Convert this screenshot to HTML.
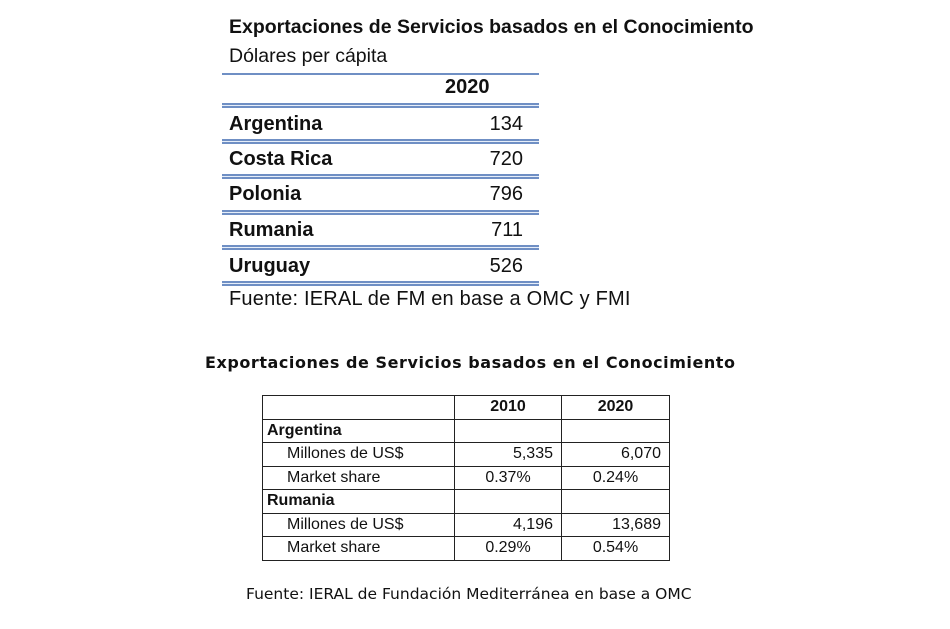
<!DOCTYPE html>
<html><head><meta charset="utf-8">
<style>
body{margin:0;width:950px;height:629px;background:#fff;position:relative;overflow:hidden;font-family:"Liberation Sans",sans-serif;color:#111}
.a{position:absolute;white-space:nowrap}
.ln{position:absolute;left:222px;width:317px;height:2px;background:#6f8fc4}
.dl{position:absolute;left:222px;width:317px;height:5px;border-top:2px solid #6f8fc4;border-bottom:2px solid #6f8fc4;box-sizing:border-box;background:#e6eef9}
.r{font-weight:bold;font-size:20px;left:229px}
.n{font-size:20px;right:427px;text-align:right}
table{position:absolute;left:262px;top:395px;border-collapse:collapse;font-family:"Liberation Sans",sans-serif;font-size:16px;table-layout:fixed}
td{border:1.5px solid #222;height:22.5px;padding:0 4px;line-height:20px;overflow:hidden;white-space:nowrap}
</style></head><body>
<div class="a" style="left:229px;top:16px;font-size:19.5px;font-weight:bold">Exportaciones de Servicios basados en el Conocimiento</div>
<div class="a" style="left:229px;top:45px;font-size:19.5px">Dólares per cápita</div>
<div class="ln" style="top:73px"></div>
<div class="a" style="left:445px;top:76px;font-size:20px;font-weight:bold">2020</div>
<div class="dl" style="top:103px"></div>
<div class="a r" style="top:113px">Argentina</div><div class="a n" style="top:113px">134</div>
<div class="dl" style="top:139px"></div>
<div class="a r" style="top:148px">Costa Rica</div><div class="a n" style="top:148px">720</div>
<div class="dl" style="top:174px"></div>
<div class="a r" style="top:183px">Polonia</div><div class="a n" style="top:183px">796</div>
<div class="dl" style="top:210px"></div>
<div class="a r" style="top:219px">Rumania</div><div class="a n" style="top:219px">711</div>
<div class="dl" style="top:245px"></div>
<div class="a r" style="top:255px">Uruguay</div><div class="a n" style="top:255px">526</div>
<div class="dl" style="top:281px"></div>
<div class="a" style="left:229px;top:288px;font-size:20px;letter-spacing:0.2px">Fuente: IERAL de FM en base a OMC y FMI</div>

<div class="a" style="left:205px;top:353px;font-family:'DejaVu Sans',sans-serif;font-weight:bold;font-size:16px;letter-spacing:0.55px">Exportaciones de Servicios basados en el Conocimiento</div>
<table>
<colgroup><col style="width:192px"><col style="width:107px"><col style="width:108px"></colgroup>
<tr><td></td><td style="text-align:center;font-weight:bold">2010</td><td style="text-align:center;font-weight:bold">2020</td></tr>
<tr><td style="font-weight:bold">Argentina</td><td></td><td></td></tr>
<tr><td style="padding-left:24px">Millones de US$</td><td style="text-align:right;padding-right:8px">5,335</td><td style="text-align:right;padding-right:8px">6,070</td></tr>
<tr><td style="padding-left:24px">Market share</td><td style="text-align:center">0.37%</td><td style="text-align:center">0.24%</td></tr>
<tr><td style="font-weight:bold">Rumania</td><td></td><td></td></tr>
<tr><td style="padding-left:24px">Millones de US$</td><td style="text-align:right;padding-right:8px">4,196</td><td style="text-align:right;padding-right:8px">13,689</td></tr>
<tr><td style="padding-left:24px">Market share</td><td style="text-align:center">0.29%</td><td style="text-align:center">0.54%</td></tr>
</table>
<div class="a" style="left:246px;top:585px;font-family:'DejaVu Sans',sans-serif;font-size:15.5px">Fuente: IERAL de Fundación Mediterránea en base a OMC</div>
</body></html>
